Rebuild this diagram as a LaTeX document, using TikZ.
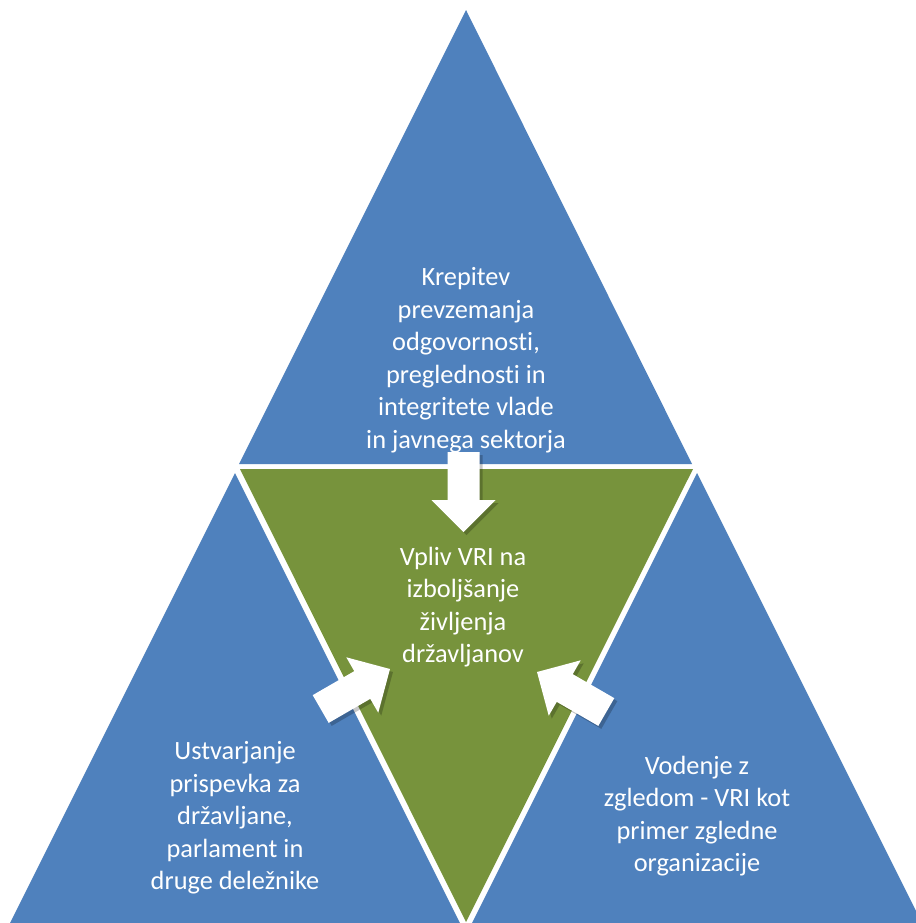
\documentclass[tikz,border=0pt]{standalone}
\usepackage{fontspec}
\setmainfont{Carlito}[Ligatures={NoCommon,NoContextual,NoRare}]
\usetikzlibrary{positioning}
\definecolor{sideblue}{HTML}{4F81BD}
\definecolor{coregreen}{HTML}{77933C}
\tikzset{
  sidetri/.style={fill=sideblue,draw=none},
  coretri/.style={fill=coregreen,draw=none},
  blocktext/.style={font=\fontsize{15}{18.5}\selectfont,text=white,align=center,inner sep=0pt},
}
% white block arrow: tail centre x, y and direction
\newcommand{\whitearrow}[3]{%
  \begin{scope}[shift={(#1+3,#2+3)},rotate=#3]
    \fill[black,opacity=0.22] (0,-16) -- (48,-16) -- (48,-32) -- (80,0) -- (48,32) -- (48,16) -- (0,16) -- cycle;
  \end{scope}
  \begin{scope}[shift={(#1,#2)},rotate=#3]
    \fill[white] (0,-16) -- (48,-16) -- (48,-32) -- (80,0) -- (48,32) -- (48,16) -- (0,16) -- cycle;
  \end{scope}}

\begin{document}
\begin{tikzpicture}[x=0.02cm,y=-0.02cm]
\useasboundingbox (0,0) rectangle (916,923);
\clip (0,0) rectangle (916,923);
\fill[white] (0,0) rectangle (916,923);
% triangles
\draw[sidetri] (466,10) -- (692,464) -- (239,464) -- cycle;
\draw[coretri] (240,469) -- (693,469) -- (466,922) -- cycle;
\draw[sidetri] (235,473) -- (460,923) -- (10,923) -- cycle;
\draw[sidetri] (697,473) -- (922,923) -- (472,923) -- cycle;

% arrows into the centre
\whitearrow{463.5}{452}{-90}
\whitearrow{320.7}{709}{30}
\whitearrow{606.3}{712}{150}

% texts
\node[blocktext] (top) at (466,360) {Krepitev\\prevzemanja\\odgovornosti,\\preglednosti in\\integritete vlade\\in javnega sektorja};
\node[blocktext] (core) at (463,607) {Vpliv VRI na\\izboljšanje\\življenja\\državljanov};
\node[blocktext] (left) at (235,818) {Ustvarjanje\\prispevka za\\državljane,\\parlament in\\druge deležnike};
\node[blocktext] (right) at (697,816) {Vodenje z\\zgledom - VRI kot\\primer zgledne\\organizacije};
\end{tikzpicture}
\end{document}
